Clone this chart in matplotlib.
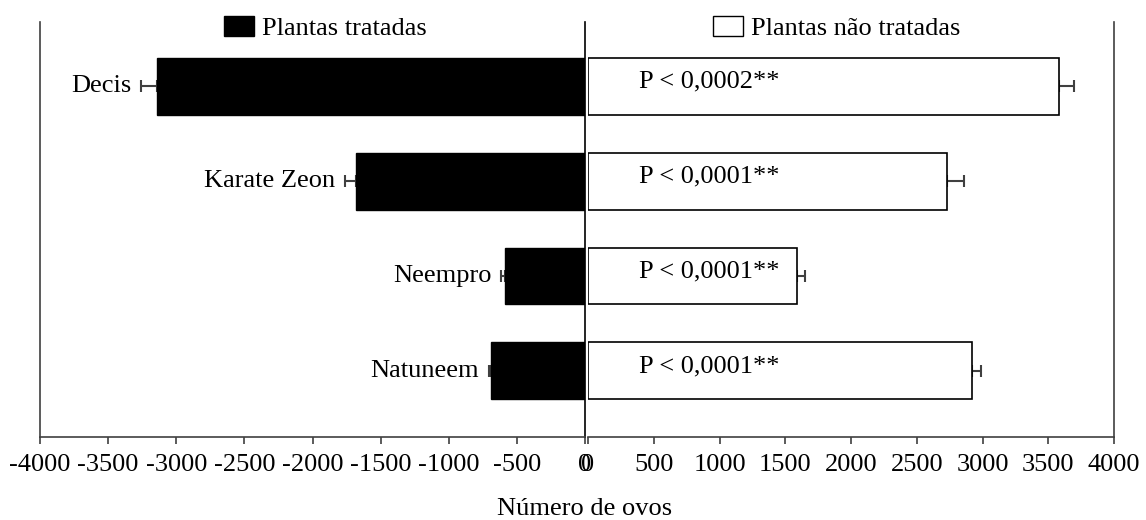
import numpy as np
import matplotlib
matplotlib.use('Agg')
import matplotlib.pyplot as plt
from matplotlib.patches import Patch

plt.rcParams['font.family'] = ['Liberation Serif', 'DejaVu Serif']
plt.rcParams['axes.unicode_minus'] = False

# data
produtos = ['Decis', 'Karate Zeon', 'Neempro', 'Natuneem']
tratadas = [3140, 1680, 585, 690]          # ovos, plantas tratadas
tratadas_err = [118, 80, 32, 16]
nao_tratadas = [3580, 2730, 1590, 2920]    # ovos, plantas nao tratadas
nao_tratadas_err = [115, 130, 60, 70]
p_valores = ['P < 0,0002**', 'P < 0,0001**', 'P < 0,0001**', 'P < 0,0001**']

ticks_esq = [-4000, -3500, -3000, -2500, -2000, -1500, -1000, -500, 0]
ticks_dir = [0, 500, 1000, 1500, 2000, 2500, 3000, 3500, 4000]

FS = 19
spine_col = '#404040'

fig = plt.figure(figsize=(11.46, 5.2), dpi=100)
ax1 = fig.add_axes([0.0349, 0.1596, 0.4756, 0.798])
ax2 = fig.add_axes([0.5131, 0.1596, 0.459, 0.798])

y = np.arange(len(produtos))
neg = [-v for v in tratadas]

# left panel: treated plants (negative side)
ax1.errorbar(neg, y, xerr=[tratadas_err, [0] * len(y)], fmt='none',
             ecolor=spine_col, elinewidth=1.5, capsize=4.5, capthick=1.5, zorder=1)
ax1.barh(y, neg, height=0.6, color='black', edgecolor='black', zorder=2)
for i, nome in enumerate(produtos):
    ax1.annotate(nome, xy=(neg[i] - tratadas_err[i], y[i]), xytext=(-7, 0),
                 textcoords='offset points', ha='right', va='center', fontsize=FS)

# right panel: untreated plants
ax2.errorbar(nao_tratadas, y, xerr=[[0] * len(y), nao_tratadas_err], fmt='none',
             ecolor=spine_col, elinewidth=1.5, capsize=4.5, capthick=1.5, zorder=1)
ax2.barh(y, nao_tratadas, height=0.6, color='white', edgecolor='black',
         linewidth=1.2, zorder=2)
for i, p in enumerate(p_valores):
    ax2.text(390, y[i] - 0.05, p, ha='left', va='center', fontsize=FS, zorder=3)

for ax, ticks, lim in [(ax1, ticks_esq, (-4000, 0)), (ax2, ticks_dir, (0, 4000))]:
    ax.set_xlim(*lim)
    ax.set_ylim(3.7, -0.68)
    ax.set_xticks(ticks)
    ax.set_xticklabels([str(t) for t in ticks])
    ax.set_yticks([])
    ax.spines['top'].set_visible(False)
    for s in ax.spines.values():
        s.set_color(spine_col)
        s.set_linewidth(1.2)
    ax.tick_params(axis='x', direction='out', length=5, width=1.2,
                   color=spine_col, labelsize=FS, pad=7)
    ax.patch.set_alpha(0)

ax1.spines['right'].set_color('black')
ax2.spines['left'].set_visible(False)

# legends
leg1 = ax1.legend(handles=[Patch(facecolor='black', edgecolor='black')],
                  labels=['Plantas tratadas'], loc='center',
                  bbox_to_anchor=(0.523, 0.985), frameon=False, fontsize=FS,
                  handlelength=1.15, handleheight=0.8, handletextpad=0.3,
                  borderpad=0, borderaxespad=0)
leg2 = ax2.legend(handles=[Patch(facecolor='white', edgecolor='black', linewidth=1)],
                  labels=['Plantas não tratadas'], loc='center',
                  bbox_to_anchor=(0.473, 0.985), frameon=False, fontsize=FS,
                  handlelength=1.15, handleheight=0.8, handletextpad=0.3,
                  borderpad=0, borderaxespad=0)

fig.text(0.5105, 0.022, 'Número de ovos', ha='center', va='center', fontsize=FS)

fig.savefig('out.png', dpi=100)
